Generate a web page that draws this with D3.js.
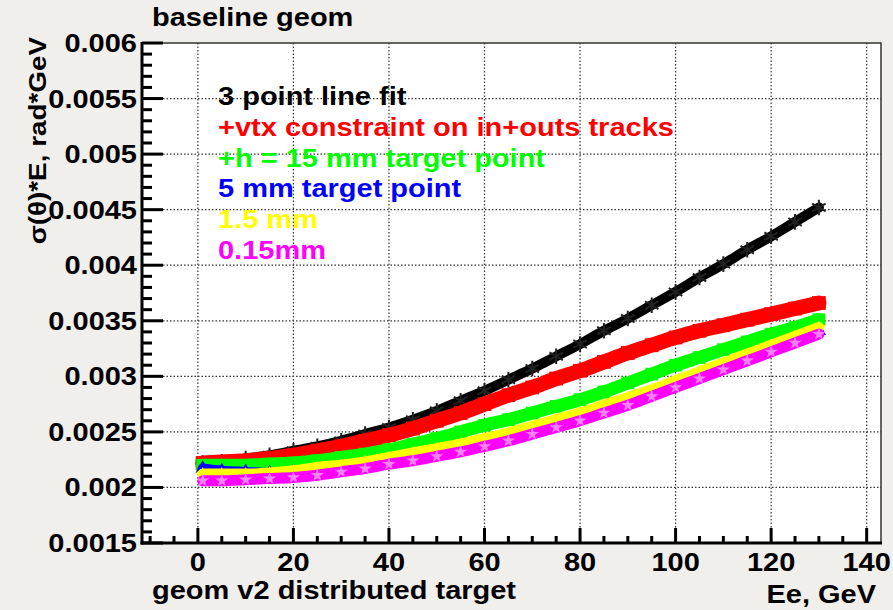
<!DOCTYPE html>
<html>
<head>
<meta charset="utf-8">
<script src="https://cdn.jsdelivr.net/npm/d3@7"></script>
<style>
  body { margin: 0; background: #f1efec; }
  text { font-family: "Liberation Sans", Arial, Helvetica, sans-serif; font-weight: bold; }
</style>
</head>
<body>
<svg id="chart" width="893" height="610"></svg>
<script>
/* global d3 */

// beam energy, GeV
var energies = [1, 5, 10, 15, 20, 25, 30, 35, 40, 45, 50, 55, 60, 65, 70, 75, 80, 85, 90, 95, 100, 105, 110, 115, 120, 125, 130];

// sigma(theta)*E, rad*GeV
var lineFit = [0.00222, 0.00223, 0.00226, 0.00229, 0.00233, 0.00237, 0.00242, 0.00248, 0.00254, 0.00261, 0.00269, 0.00278, 0.00287, 0.00297, 0.00307, 0.00318, 0.00329, 0.00341, 0.00352, 0.00364, 0.00376, 0.00389, 0.00401, 0.00414, 0.00426, 0.00439, 0.00452];
var vtxConstraint = [0.00222, 0.00223, 0.00224, 0.00226, 0.00229, 0.00233, 0.00237, 0.00242, 0.00247, 0.00253, 0.00260, 0.00267, 0.00275, 0.00283, 0.00290, 0.00298, 0.00305, 0.00313, 0.00321, 0.00328, 0.00335, 0.00341, 0.00346, 0.00351, 0.00356, 0.00361, 0.00366];
var target15mm = [0.00220, 0.00220, 0.00220, 0.00221, 0.00222, 0.00224, 0.00227, 0.00230, 0.00234, 0.00239, 0.00244, 0.00250, 0.00256, 0.00261, 0.00267, 0.00273, 0.00279, 0.00286, 0.00294, 0.00302, 0.00310, 0.00317, 0.00324, 0.00331, 0.00338, 0.00344, 0.00351];
var target5mm = [0.00217, 0.00215, 0.00214, 0.00213, 0.00214, 0.00216, 0.00218, 0.00221, 0.00224, 0.00228, 0.00232, 0.00236, 0.00241, 0.00246, 0.00252, 0.00258, 0.00264, 0.00271, 0.00278, 0.00286, 0.00293, 0.00301, 0.00309, 0.00317, 0.00325, 0.00333, 0.00341];
var target1p5mm = [0.00212, 0.00212, 0.00212, 0.00213, 0.00215, 0.00218, 0.00220, 0.00223, 0.00227, 0.00231, 0.00235, 0.00239, 0.00244, 0.00249, 0.00255, 0.00261, 0.00267, 0.00274, 0.00281, 0.00288, 0.00296, 0.00304, 0.00312, 0.00320, 0.00328, 0.00336, 0.00344];
var target0p15mm = [0.00206, 0.00206, 0.00207, 0.00208, 0.00209, 0.00211, 0.00214, 0.00217, 0.00221, 0.00224, 0.00228, 0.00232, 0.00237, 0.00242, 0.00248, 0.00254, 0.00260, 0.00267, 0.00274, 0.00282, 0.00290, 0.00298, 0.00306, 0.00314, 0.00322, 0.00330, 0.00338];

var seriesNames = ["3 point line fit", "+vtx constraint on in+outs tracks", "+h = 15 mm target point", "5 mm target point", "1.5 mm", "0.15mm"];
var seriesColors = ["#000000", "#ff0000", "#00ff00", "#0000ff", "#ffff00", "#ff00ff"];
var seriesValues = [lineFit, vtxConstraint, target15mm, target5mm, target1p5mm, target0p15mm];

var xTicks = [0, 20, 40, 60, 80, 100, 120, 140];
var yTicks = [0.0015, 0.002, 0.0025, 0.003, 0.0035, 0.004, 0.0045, 0.005, 0.0055, 0.006];

// frame edges (note: "top" is taken by window.top)
var frameL = 142, frameR = 881, frameT = 43, frameB = 543,
  sx = 1.16;   // root's helvetica is wider than liberation sans

var svg = d3.select("#chart");

var xScale = d3.scaleLinear().domain([-11.7, 143]).range([frameL, frameR]);
var yScale = d3.scaleLinear().domain([0.0015, 0.006]).range([frameB, frameT]);

function label(g, txt, x, y, size, anchor, color, rot) {
  return g.append("text")
    .attr("transform", "translate(" + x + "," + y + ")" + (rot ? " rotate(" + rot + ")" : "") + " scale(" + sx + ",1)")
    .attr("font-size", size)
    .attr("text-anchor", anchor || "start")
    .attr("fill", color || "#000")
    .text(txt);
}

svg.append("rect").attr("width", 893).attr("height", 610).attr("fill", "#f1efec");
svg.append("rect")
  .attr("x", frameL).attr("y", frameT)
  .attr("width", frameR - frameL).attr("height", frameB - frameT)
  .attr("fill", "#fff");

// dotted grid
var grid = svg.append("g").attr("stroke", "#333").attr("stroke-width", 1.2).attr("stroke-dasharray", "1.5,2");
grid.selectAll(".gx").data(xTicks).enter().append("line")
  .attr("x1", function(d) { return xScale(d); }).attr("x2", function(d) { return xScale(d); })
  .attr("y1", frameT).attr("y2", frameB);
grid.selectAll(".gy").data(yTicks.slice(1, -1)).enter().append("line")
  .attr("x1", frameL).attr("x2", frameR)
  .attr("y1", function(d) { return yScale(d); }).attr("y2", function(d) { return yScale(d); });

// data bands
svg.append("clipPath").attr("id", "clip").append("rect")
  .attr("x", frameL).attr("y", frameT).attr("width", frameR - frameL).attr("height", frameB - frameT);
var plot = svg.append("g").attr("clip-path", "url(#clip)");

var bandWidth = [10, 15, 13, 10, 11, 11];
var markerSize = [170, 190, 160, 90, 60, 55];
var markerType = [d3.symbolAsterisk, d3.symbolSquare, d3.symbolSquare, d3.symbolTriangle, d3.symbolStar, d3.symbolStar];
var markerFill = ["none", "#ff0000", "#00ff00", "#0000ff", "#ffff00", "#ff80ff"];
var markerStroke = ["#222", "none", "none", "none", "none", "none"];

var line = d3.line()
  .x(function(d) { return xScale(d[0]); })
  .y(function(d) { return yScale(d[1]); })
  .curve(d3.curveMonotoneX);

seriesValues.forEach(function(vals, i) {
  var pts = energies.map(function(e, j) { return [e, vals[j]]; });
  var g = plot.append("g");
  g.append("path")
    .datum(pts)
    .attr("d", line)
    .attr("fill", "none")
    .attr("stroke", seriesColors[i])
    .attr("stroke-width", bandWidth[i])
    .attr("stroke-linecap", "round");
  g.selectAll("path.m").data(pts).enter().append("path")
    .attr("class", "m")
    .attr("transform", function(d) { return "translate(" + xScale(d[0]) + "," + yScale(d[1]) + ")"; })
    .attr("d", d3.symbol().type(markerType[i]).size(markerSize[i]))
    .attr("fill", markerFill[i])
    .attr("stroke", markerStroke[i])
    .attr("stroke-width", 2);
});

// frame: thin top/right, heavy axes
svg.append("path")
  .attr("d", "M" + frameL + "," + frameT + "H" + frameR + "V" + frameB)
  .attr("fill", "none").attr("stroke", "#333").attr("stroke-width", 1.5);

var axes = svg.append("g").attr("stroke", "#000").attr("stroke-width", 3);
axes.append("line").attr("x1", frameL).attr("x2", frameL).attr("y1", frameT - 1).attr("y2", frameB + 1.5);
axes.append("line").attr("x1", frameL - 1.5).attr("x2", frameR + 1).attr("y1", frameB).attr("y2", frameB);

var yMinor = d3.range(15, 61).map(function(k) { return k / 10000; });
axes.selectAll(".ty").data(yMinor).enter().append("line")
  .attr("x1", frameL)
  .attr("x2", function(d, k) { return frameL + (k % 5 === 0 ? 21 : 10); })
  .attr("y1", function(d) { return yScale(d); }).attr("y2", function(d) { return yScale(d); });

var xMinor = d3.range(-10, 145, 5);
axes.selectAll(".tx").data(xMinor).enter().append("line")
  .attr("x1", function(d) { return xScale(d); }).attr("x2", function(d) { return xScale(d); })
  .attr("y1", frameB)
  .attr("y2", function(d) { return frameB - (d % 20 === 0 ? 15 : 7); });

// tick labels
var labels = svg.append("g");
yTicks.forEach(function(t) {
  label(labels, String(+t.toFixed(4)), 137, yScale(t) + 9, 25, "end");
});
xTicks.forEach(function(t) {
  label(labels, String(t), xScale(t), 571, 25, "middle");
});

// titles
label(labels, "baseline geom", 152, 26, 25, "start");
label(labels, "Ee, GeV", 876, 603, 25, "end");
label(labels, "geom v2 distributed target", 152, 599, 25, "start");
label(labels, "σ(θ)*E, rad*GeV", 46, 37, 24, "end", "#000", -90);

// legend (coloured text only)
seriesNames.forEach(function(name, i) {
  label(labels, name, 218, 105 + i * 30.8, 25, "start", seriesColors[i]);
});
</script>
</body>
</html>
